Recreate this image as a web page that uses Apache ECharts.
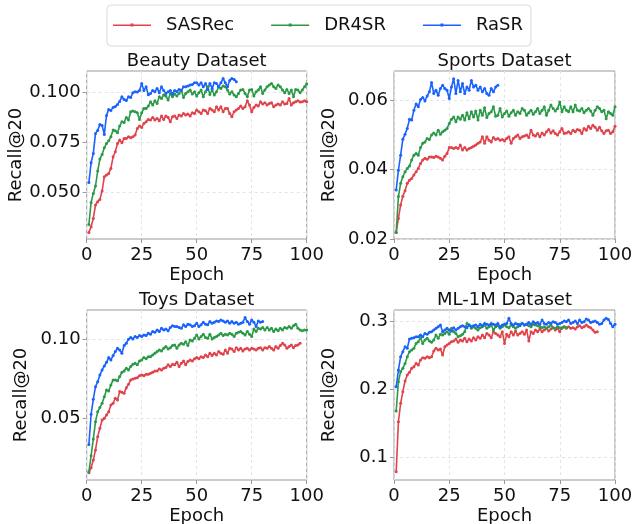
<!DOCTYPE html>
<html>
<head>
<meta charset="utf-8">
<script src="https://cdn.jsdelivr.net/npm/echarts@6/dist/echarts.min.js"></script>
<style>html,body{margin:0;padding:0;background:#fff;}#c{width:633px;height:524px;}</style>
</head>
<body>
<div id="c"></div>
<script>
// ---------- data (Recall@20 per epoch, epochs start at 1) ----------
const methods = ['SASRec', 'DR4SR', 'RaSR'];
const datasets = ['Beauty Dataset', 'Sports Dataset', 'Toys Dataset', 'ML-1M Dataset'];
const xTicks = [0, 25, 50, 75, 100];

const beautySASRec = [0.030,0.0328,0.037,0.0437,0.0453,0.0465,0.0507,0.0578,0.0587,0.0595,0.062,0.0678,0.0703,0.0745,0.0762,0.0748,0.077,0.077,0.0778,0.0773,0.0778,0.0787,0.082,0.0832,0.0825,0.0845,0.0853,0.0865,0.0862,0.0875,0.0862,0.087,0.0858,0.0882,0.0865,0.0882,0.0875,0.0853,0.0878,0.0882,0.087,0.0887,0.0882,0.0895,0.0887,0.0892,0.0882,0.0898,0.0895,0.0912,0.0903,0.0895,0.0912,0.0908,0.0895,0.092,0.0912,0.0903,0.0928,0.0912,0.0928,0.0903,0.092,0.092,0.0895,0.0878,0.0903,0.0912,0.092,0.0932,0.092,0.0928,0.0958,0.0937,0.0903,0.0925,0.0937,0.0932,0.0953,0.0942,0.0948,0.0937,0.0945,0.0948,0.0928,0.0937,0.0942,0.0937,0.0953,0.0942,0.0945,0.097,0.0937,0.0948,0.0953,0.0958,0.0952,0.0953,0.0958,0.0953];
const beautyDR4SR = [0.034,0.045,0.0495,0.0532,0.0607,0.0667,0.069,0.0723,0.0745,0.0758,0.0778,0.0812,0.0808,0.0798,0.0832,0.0853,0.085,0.0875,0.0862,0.0903,0.0907,0.0903,0.0898,0.0865,0.0898,0.092,0.092,0.0932,0.0953,0.0937,0.0958,0.0945,0.0978,0.097,0.0987,0.0982,0.0962,0.0995,0.0978,0.0992,0.0982,0.0995,0.1012,0.0975,0.0995,0.1003,0.1012,0.0992,0.1003,0.0982,0.0998,0.1012,0.0978,0.1003,0.1028,0.099,0.1012,0.0987,0.1003,0.1028,0.102,0.1032,0.1028,0.1012,0.0992,0.1003,0.0987,0.0978,0.0995,0.1012,0.1015,0.0995,0.0978,0.1012,0.1015,0.0982,0.1003,0.1012,0.1028,0.0995,0.1012,0.1028,0.1037,0.1045,0.1028,0.102,0.1037,0.1028,0.1012,0.0998,0.1015,0.0995,0.1012,0.0978,0.1015,0.1012,0.0998,0.1012,0.1028,0.1042];
const beautyRaSR = [0.055,0.0648,0.0695,0.0795,0.081,0.084,0.0835,0.079,0.0885,0.0915,0.091,0.0925,0.093,0.094,0.0955,0.0978,0.0965,0.096,0.0978,0.0975,0.0998,0.1003,0.1002,0.101,0.1045,0.101,0.1028,0.0988,0.0995,0.101,0.1003,0.102,0.0998,0.1028,0.101,0.0995,0.1003,0.101,0.0992,0.101,0.1003,0.1015,0.1008,0.1028,0.1028,0.1032,0.1037,0.104,0.1048,0.1048,0.1037,0.1048,0.1028,0.1045,0.1015,0.1045,0.102,0.1048,0.1045,0.1028,0.1048,0.107,0.1048,0.1028,0.106,0.107,0.1065,0.1053];

const sportsSASRec = [0.0219,0.0259,0.0298,0.0323,0.0339,0.036,0.0369,0.0374,0.0384,0.0393,0.0403,0.0417,0.0427,0.0432,0.0429,0.0436,0.0436,0.0434,0.0438,0.0436,0.0432,0.0427,0.0438,0.0446,0.0463,0.0463,0.046,0.0463,0.046,0.047,0.0456,0.0463,0.0456,0.046,0.0463,0.0467,0.047,0.0475,0.0479,0.0494,0.0475,0.0494,0.0484,0.0479,0.0492,0.0486,0.0489,0.0484,0.0486,0.0482,0.0489,0.0494,0.0475,0.0489,0.0494,0.0499,0.0489,0.0494,0.0496,0.0499,0.0492,0.0513,0.0499,0.0496,0.0503,0.0494,0.0505,0.0499,0.0508,0.0515,0.0505,0.0511,0.0503,0.0499,0.0508,0.0518,0.0503,0.0505,0.0508,0.0503,0.0513,0.0508,0.0515,0.0513,0.0503,0.0518,0.0513,0.0524,0.0518,0.0527,0.0521,0.0513,0.0521,0.0511,0.0503,0.0511,0.0513,0.0503,0.0508,0.0524];
const sportsDR4SR = [0.0219,0.0322,0.036,0.0379,0.0393,0.0403,0.041,0.0427,0.0441,0.0446,0.0441,0.0463,0.0475,0.0479,0.0489,0.0486,0.0499,0.0505,0.0499,0.0513,0.0501,0.0508,0.0513,0.0518,0.0532,0.0544,0.0551,0.0537,0.0551,0.0544,0.0556,0.0542,0.0563,0.0546,0.0566,0.0551,0.0568,0.0542,0.057,0.0556,0.0577,0.0549,0.0561,0.0566,0.058,0.0553,0.0556,0.0575,0.0551,0.0561,0.0568,0.0553,0.0563,0.057,0.0556,0.0566,0.0561,0.0575,0.057,0.0556,0.0563,0.057,0.0559,0.0566,0.0575,0.0561,0.057,0.058,0.0556,0.057,0.0585,0.0575,0.0568,0.0575,0.0594,0.0566,0.058,0.057,0.0566,0.058,0.0566,0.0585,0.057,0.0568,0.0575,0.0563,0.057,0.0575,0.0568,0.0556,0.057,0.058,0.0575,0.0566,0.057,0.0546,0.0566,0.0561,0.0556,0.058];
const sportsRaSR = [0.0341,0.0398,0.0441,0.0487,0.0501,0.0518,0.0544,0.0542,0.057,0.0588,0.058,0.0601,0.0607,0.0597,0.0611,0.0623,0.065,0.0618,0.0628,0.0613,0.0633,0.0642,0.0633,0.0628,0.0604,0.0637,0.0661,0.0618,0.0656,0.0623,0.0647,0.0618,0.0637,0.0628,0.0656,0.0637,0.0642,0.0628,0.0637,0.0623,0.0633,0.0618,0.0613,0.0633,0.0623,0.0637,0.0642];

const toysSASRec = [0.0156,0.0188,0.0236,0.030,0.0384,0.0437,0.0489,0.050,0.0521,0.0542,0.0584,0.0595,0.0627,0.0616,0.0669,0.0665,0.0658,0.0694,0.0715,0.0743,0.0749,0.0753,0.0757,0.077,0.0774,0.077,0.0778,0.0778,0.0785,0.0791,0.080,0.080,0.0812,0.0806,0.0816,0.0821,0.0838,0.0827,0.0842,0.0838,0.0854,0.0827,0.0848,0.0863,0.0838,0.0859,0.0869,0.0863,0.0876,0.0884,0.0876,0.089,0.0884,0.0901,0.089,0.0911,0.0897,0.0911,0.0901,0.0922,0.0911,0.0905,0.0932,0.0911,0.0943,0.0939,0.0922,0.0947,0.0932,0.0943,0.0926,0.0939,0.0943,0.0932,0.0943,0.0939,0.0932,0.0943,0.0947,0.0932,0.0947,0.0943,0.0954,0.0943,0.0932,0.0954,0.0943,0.096,0.0975,0.0964,0.0943,0.0954,0.0964,0.0947,0.096,0.0964,0.0975];
const toysDR4SR = [0.0162,0.0264,0.0369,0.0479,0.0542,0.0568,0.0595,0.0637,0.0679,0.0673,0.0711,0.0743,0.0743,0.0738,0.0764,0.0791,0.080,0.0816,0.0806,0.0827,0.0842,0.0848,0.0838,0.0863,0.0869,0.0884,0.0876,0.089,0.089,0.0901,0.0911,0.0922,0.0932,0.0926,0.0943,0.0954,0.0939,0.0947,0.096,0.0964,0.0943,0.0964,0.0975,0.0968,0.0985,0.096,0.0996,0.0989,0.1006,0.1027,0.1002,0.1017,0.1032,0.1011,0.1006,0.1032,0.1002,0.1011,0.1017,0.1027,0.1038,0.1023,0.1032,0.1027,0.1038,0.1032,0.1017,0.1038,0.1044,0.1049,0.1038,0.1027,0.1049,0.1032,0.1017,0.1065,0.1049,0.107,0.1065,0.1074,0.1059,0.1074,0.1059,0.107,0.1049,0.1065,0.1053,0.107,0.1059,0.1074,0.107,0.108,0.107,0.1086,0.1095,0.107,0.1059,0.1053,0.1059,0.1059];
const toysRaSR = [0.0335,0.0525,0.062,0.070,0.0732,0.0774,0.0806,0.0831,0.0854,0.0884,0.0869,0.0897,0.0922,0.0943,0.0932,0.0911,0.096,0.0975,0.100,0.1011,0.1002,0.1017,0.1011,0.1023,0.1017,0.1027,0.1023,0.1038,0.1032,0.1049,0.1044,0.1059,0.1049,0.107,0.1059,0.1065,0.1053,0.1074,0.1086,0.108,0.108,0.1074,0.107,0.1091,0.108,0.1095,0.1091,0.108,0.1086,0.1101,0.108,0.1091,0.1108,0.1095,0.1091,0.1112,0.1101,0.1108,0.1116,0.1112,0.1122,0.1116,0.1108,0.1116,0.1101,0.1112,0.1101,0.1108,0.1095,0.1101,0.1108,0.1137,0.1112,0.1095,0.1122,0.1108,0.108,0.1116,0.1108,0.1112];

const mlSASRec = [0.0794,0.1529,0.1799,0.1971,0.2127,0.2216,0.2255,0.2314,0.2338,0.2387,0.2363,0.2436,0.2471,0.2461,0.2485,0.2471,0.2485,0.2569,0.2608,0.2583,0.2598,0.251,0.2632,0.2657,0.2681,0.2706,0.2716,0.2745,0.2696,0.273,0.2716,0.2755,0.2706,0.2745,0.2716,0.2765,0.273,0.2779,0.2755,0.2804,0.2765,0.2828,0.2804,0.2765,0.2853,0.2828,0.2804,0.2779,0.2853,0.2681,0.2814,0.2779,0.2853,0.2804,0.2863,0.2804,0.2828,0.2853,0.2814,0.2877,0.2716,0.2853,0.2828,0.2877,0.2853,0.2892,0.2853,0.2877,0.2902,0.2863,0.2892,0.2912,0.2877,0.2902,0.2853,0.2912,0.2926,0.2902,0.2926,0.2902,0.2912,0.2892,0.2926,0.2941,0.2912,0.2926,0.2951,0.2926,0.2912,0.2877,0.2843,0.2853];
const mlDR4SR = [0.1686,0.2118,0.2265,0.2314,0.2387,0.2485,0.2559,0.2583,0.2608,0.2681,0.2706,0.2765,0.2681,0.273,0.2755,0.2716,0.2696,0.273,0.2804,0.2755,0.2814,0.2804,0.2828,0.2853,0.2814,0.2902,0.2853,0.2828,0.2779,0.2794,0.2814,0.2853,0.2975,0.2951,0.2902,0.2926,0.2902,0.2877,0.2912,0.2926,0.2951,0.2902,0.2926,0.2951,0.2877,0.2926,0.2941,0.2902,0.2926,0.2951,0.2926,0.2912,0.2951,0.2926,0.2902,0.2926,0.2961,0.2975,0.2951,0.2961,0.2941,0.2926,0.2961,0.2951,0.2941,0.2926,0.2912,0.2926,0.2902,0.2926,0.2951,0.2912,0.2902,0.2926,0.2912,0.2902,0.2926,0.2912];
const mlRaSR = [0.2044,0.2289,0.2485,0.2559,0.2632,0.2608,0.2745,0.2755,0.2765,0.2779,0.2779,0.2804,0.2779,0.2828,0.2814,0.2843,0.2853,0.2877,0.2902,0.2926,0.2951,0.2853,0.2877,0.2902,0.2877,0.2863,0.2912,0.2877,0.2902,0.2926,0.2941,0.2926,0.2912,0.2951,0.2926,0.2941,0.2951,0.2926,0.2961,0.2941,0.2975,0.2961,0.2951,0.2975,0.2961,0.2951,0.2975,0.2926,0.2951,0.2961,0.2975,0.3049,0.2975,0.2951,0.2975,0.2961,0.2941,0.2975,0.2951,0.2961,0.299,0.2961,0.300,0.2975,0.299,0.2961,0.3025,0.2975,0.2961,0.299,0.2975,0.300,0.299,0.2961,0.2975,0.299,0.301,0.300,0.3025,0.2975,0.299,0.301,0.2975,0.3025,0.299,0.300,0.3039,0.3025,0.299,0.300,0.301,0.299,0.2961,0.2975,0.3025,0.3049,0.3034,0.2975,0.2926,0.2961];

const beautyYTicks = [0.050, 0.075, 0.100];
const sportsYTicks = [0.02, 0.04, 0.06];
const toysYTicks = [0.05, 0.10];
const mlYTicks = [0.1, 0.2, 0.3];

// ---------- layout / style ----------
const colors = ['#e0434b', '#2a9a48', '#1a62ff'];
const FONT = 'DejaVu Sans';
const panels = [
  { title: datasets[0], series: [beautySASRec, beautyDR4SR, beautyRaSR], ticks: beautyYTicks, dec: 3,
    grid: { left: 86.7, top: 71, width: 220, height: 168 }, ymin: 0.0267, ymax: 0.1107, step: 0.025 },
  { title: datasets[1], series: [sportsSASRec, sportsDR4SR, sportsRaSR], ticks: sportsYTicks, dec: 2,
    grid: { left: 394, top: 71, width: 221, height: 168 }, ymin: 0.02, ymax: 0.0683, step: 0.02 },
  { title: datasets[2], series: [toysSASRec, toysDR4SR, toysRaSR], ticks: toysYTicks, dec: 2,
    grid: { left: 86.7, top: 310, width: 220, height: 170 }, ymin: 0.011, ymax: 0.1185, step: 0.05 },
  { title: datasets[3], series: [mlSASRec, mlDR4SR, mlRaSR], ticks: mlYTicks, dec: 1,
    grid: { left: 394, top: 310, width: 221, height: 170 }, ymin: 0.0672, ymax: 0.3172, step: 0.1 }
];

const grids = [], xAxes = [], yAxes = [], series = [], titles = [];
panels.forEach((p, k) => {
  grids.push(Object.assign({ show: true, borderColor: '#999', borderWidth: 1, backgroundColor: 'transparent', outerBoundsMode: 'none', containLabel: false }, p.grid));
  titles.push({
    text: p.title, left: p.grid.left + p.grid.width / 2, top: p.grid.top - 19, textAlign: 'center',
    textStyle: { fontFamily: FONT, fontSize: 18, fontWeight: 'normal', color: '#111' }, padding: 0
  });
  xAxes.push({
    type: 'value', gridIndex: k, min: 0, max: 100, interval: 25,
    name: 'Epoch', nameLocation: 'middle', nameGap: 27,
    nameTextStyle: { fontFamily: FONT, fontSize: 18, color: '#111' },
    axisLine: { show: false },
    axisTick: { show: true, length: 4, lineStyle: { color: '#999' } },
    axisLabel: { fontFamily: FONT, fontSize: 18, color: '#111', margin: 7,
      customValues: xTicks, formatter: v => String(v) },
    splitLine: { show: true, lineStyle: { color: '#e4e4e4', type: [3, 3], width: 1 } }
  });
  yAxes.push({
    type: 'value', gridIndex: k, min: p.ymin, max: p.ymax,
    minInterval: p.step, maxInterval: p.step, splitNumber: 3,
    name: 'Recall@20', nameLocation: 'middle', nameGap: 56,
    nameTextStyle: { fontFamily: FONT, fontSize: 18, color: '#111' },
    axisLine: { show: false },
    axisTick: { show: true, length: 4, lineStyle: { color: '#999' }, customValues: p.ticks },
    axisLabel: { fontFamily: FONT, fontSize: 18, color: '#111', margin: 6,
      customValues: p.ticks, formatter: v => v.toFixed(p.dec) },
    splitLine: { show: true, lineStyle: { color: '#e4e4e4', type: [3, 3], width: 1 } }
  });
  p.series.forEach((arr, m) => {
    series.push({
      name: methods[m], type: 'line', xAxisIndex: k, yAxisIndex: k,
      data: arr.map((v, i) => [i + 1, v]),
      symbol: 'circle', symbolSize: 3, showSymbol: true,
      lineStyle: { width: 1.6, color: colors[m] }, itemStyle: { color: colors[m] },
      animation: false
    });
  });
});

const chart = echarts.init(document.getElementById('c'), null, { renderer: 'canvas' });
chart.setOption({
  backgroundColor: '#fff',
  animation: false,
  title: titles,
  legend: {
    data: methods, left: 107, top: 5, orient: 'horizontal',
    padding: [11, 8, 12, 6], itemGap: 37, itemWidth: 38, itemHeight: 3,
    icon: 'path://M0,1 L38,1 L38,2.4 L0,2.4 Z M17.5,0 L20.5,0 L20.5,3 L17.5,3 Z',
    borderColor: '#d9d9d9', borderWidth: 1, borderRadius: 4,
    textStyle: { fontFamily: FONT, fontSize: 18, color: '#111', padding: [0, 0, 0, 10], lineHeight: 18 }
  },
  grid: grids, xAxis: xAxes, yAxis: yAxes, series: series
});
</script>
</body>
</html>
